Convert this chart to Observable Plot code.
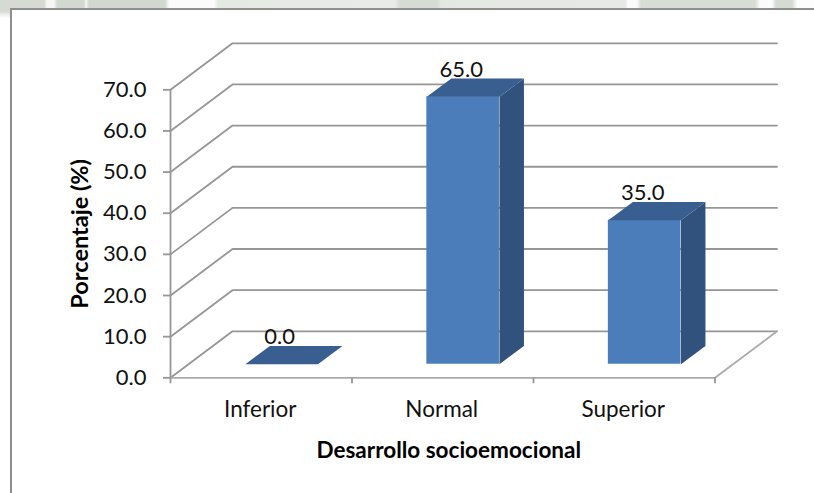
<!DOCTYPE html>
<html lang="es">
<head>
<meta charset="utf-8">
<script src="https://cdn.jsdelivr.net/npm/d3@7"></script>
<script src="https://cdn.jsdelivr.net/npm/@observablehq/plot@0.6"></script>
<style>
  html, body { margin: 0; padding: 0; background: #fff; }
  body { width: 814px; height: 493px; overflow: hidden; position: relative; font-family: Lato, sans-serif; }
  #strip { position: absolute; left: 0; top: 0; width: 814px; height: 9px;
    background: linear-gradient(90deg,
      #d5dad3 0, #d5dad3 44px, #f6f7f5 47px, #f6f7f5 54px, #d3d9d1 57px, #d3d9d1 84px,
      #f4f5f3 86px, #d2d8d0 89px, #d2d8d0 165px, #fbfbfb 169px, #fbfbfb 214px,
      #e5e9e4 218px, #e8ebe7 395px, #d6dbd4 400px, #d6dbd4 437px, #e4e8e3 441px,
      #e6e9e5 625px, #fbfbfb 628px, #fbfbfb 637px, #d7dcd5 641px, #d7dcd5 755px,
      #fbfbfb 760px, #fbfbfb 772px, #d5dad3 776px, #d5dad3 792px, #fdfdfd 797px, #fdfdfd 814px);
  }
  #corner { position: absolute; left: 0; top: 0; width: 10px; height: 18px;
    background: linear-gradient(180deg, #d5dad3 0, #d5dad3 11px, #ffffff 18px); }
  #frame { position: absolute; left: 10px; top: 8px; width: 830px; height: 520px;
    box-sizing: border-box; background: #fff; border: 2px solid #8e8e8e; }
  #chart { position: absolute; left: 0; top: 0; }
  #chart svg { display: block; overflow: visible; background: transparent; }
</style>
</head>
<body>
<div id="strip"></div>
<div id="corner"></div>
<div id="frame"></div>
<div id="chart"></div>
<script>
// Data
const categories = ["Inferior", "Normal", "Superior"];
const values = [0.0, 65.0, 35.0];
const yTicks = [0, 10, 20, 30, 40, 50, 60, 70];
const xEdges = [0, 1, 2, 3];

// 3D oblique offsets, in data units
const wallDX = 0.3416, wallDY = 11.3;     // depth of the floor and side wall
const barInsetX = 0.1124, barInsetY = 3.3; // bar front sits this far into the floor
const barDepthX = 0.135, barDepthY = 4.45; // depth of each bar
const barHalf = 0.2;                       // half bar width

const grid = "#969696", front = "#4b7dbb", side = "#31527c", top3d = "#395e90", ink = "#111";

const bars = categories.map((c, i) => ({
  c, v: values[i],
  x1: i + 0.5 - barHalf + barInsetX,
  x2: i + 0.5 + barHalf + barInsetX,
  y1: barInsetY,
  y2: barInsetY + values[i]
}));

const sidePts = bars.filter(b => b.v > 0).flatMap(b => [
  {k: b.c, x: b.x2, y: b.y1},
  {k: b.c, x: b.x2 + barDepthX, y: b.y1 + barDepthY},
  {k: b.c, x: b.x2 + barDepthX, y: b.y2 + barDepthY},
  {k: b.c, x: b.x2, y: b.y2}
]);
const topPts = bars.flatMap(b => [
  {k: b.c, x: b.x1, y: b.y2},
  {k: b.c, x: b.x2, y: b.y2},
  {k: b.c, x: b.x2 + barDepthX, y: b.y2 + barDepthY},
  {k: b.c, x: b.x1 + barDepthX, y: b.y2 + barDepthY}
]);
const wallPts = yTicks.flatMap(t => [
  {k: t, x: 0, y: t},
  {k: t, x: wallDX, y: t + wallDY},
  {k: t, x: 3 + wallDX, y: t + wallDY}
]);

const chart = Plot.plot({
  width: 814,
  height: 493,
  marginLeft: 170,
  marginRight: 99.5,
  marginTop: 89.3,
  marginBottom: 115.7,
  style: {background: "transparent", fontFamily: "Lato, sans-serif"},
  x: {domain: [0, 3], axis: null},
  y: {domain: [0, 70], axis: null},
  marks: [
    // side wall + back wall gridlines
    Plot.line(wallPts, {x: "x", y: "y", z: "k", stroke: grid, strokeWidth: 1.8}),
    // floor front edge and right edge
    Plot.line([{x: 0, y: 0}, {x: 3, y: 0}, {x: 3 + wallDX, y: wallDY}],
      {x: "x", y: "y", stroke: "#ababab", strokeWidth: 1.8}),
    // value axis
    Plot.ruleX([0], {y1: 0, y2: 70, stroke: grid, strokeWidth: 1.8}),
    Plot.axisY({
      ticks: yTicks, tickSize: 7, tickPadding: 17, stroke: grid, strokeWidth: 1.8,
      tickFormat: d => d.toFixed(1), fontSize: 22, color: ink, label: null
    }),
    // category axis ticks and labels
    Plot.axisX({ticks: xEdges, tickSize: 6, tickFormat: () => "", stroke: grid, strokeWidth: 1.8, label: null}),
    Plot.axisX({
      ticks: [0.5, 1.5, 2.5], tickSize: 0, tickPadding: 23, dx: -1,
      tickFormat: d => categories[Math.floor(d)], fontSize: 22.5, color: ink, label: null
    }),
    // bars
    Plot.rect(bars.filter(b => b.v > 0), {x1: "x1", x2: "x2", y1: "y1", y2: "y2", fill: front, inset: 0}),
    Plot.line(sidePts, {x: "x", y: "y", z: "k", fill: side, stroke: "none"}),
    Plot.line(topPts, {x: "x", y: "y", z: "k", fill: top3d, stroke: "none"}),
    // value labels
    Plot.text(bars, {
      x: b => (b.x1 + b.x2) / 2, y: "y2", text: b => b.v.toFixed(1),
      dx: -2, dy: -27, fontSize: 22, fill: ink
    }),
    // axis titles
    Plot.text(["Desarrollo socioemocional"], {
      x: [1.5], y: [0], text: d => d, dx: 6, dy: 73, fontSize: 22.5, fontWeight: "bold", fill: "#000"
    }),
    Plot.text(["Porcentaje (%)"], {
      x: [0], y: [35], text: d => d, rotate: -90, dx: -90, fontSize: 23.5, fontWeight: "bold", fill: "#000"
    })
  ]
});
document.getElementById("chart").append(chart);
</script>
</body>
</html>
